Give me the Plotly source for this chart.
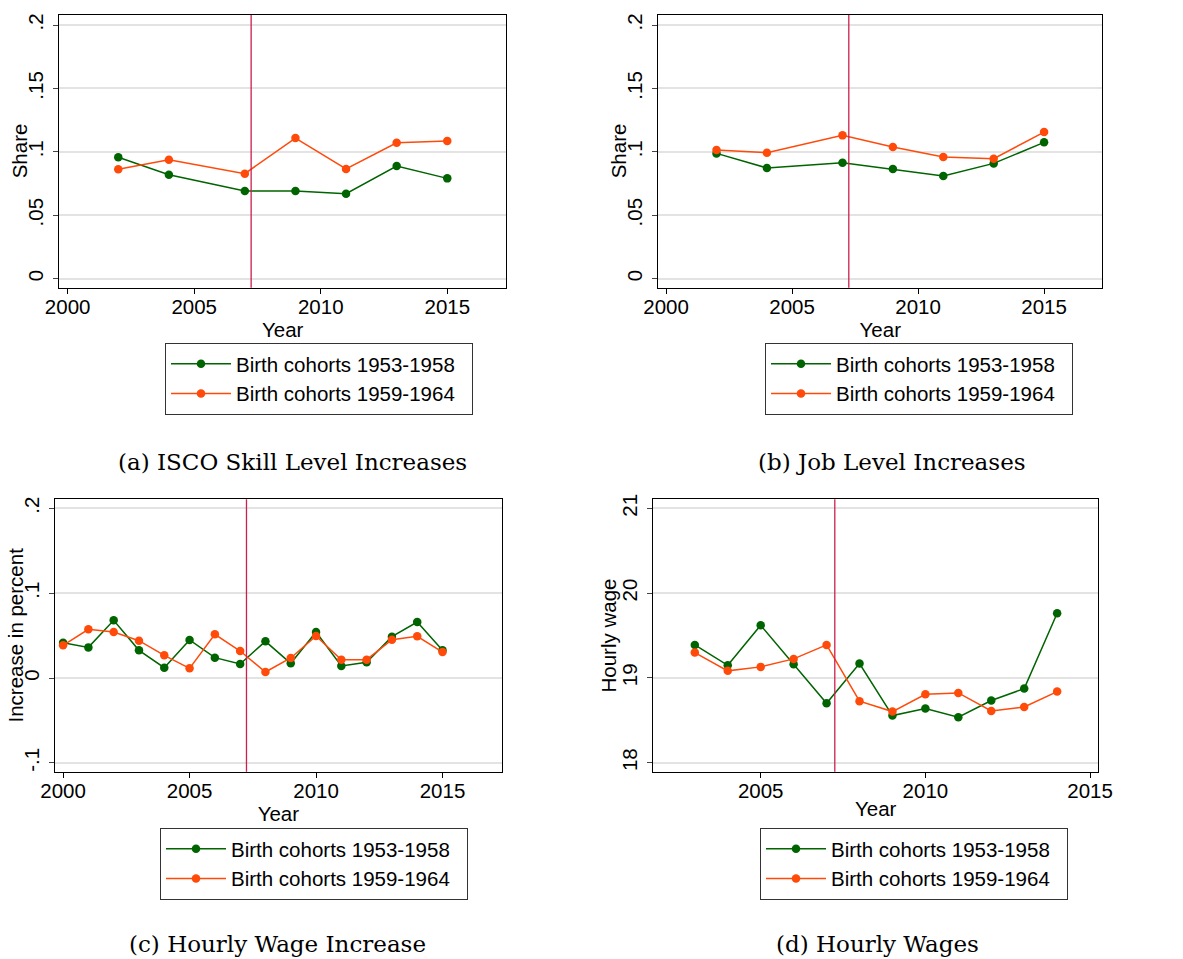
import plotly.graph_objects as go

# ---------------- data ----------------
years_ab = [2002, 2004, 2007, 2009, 2011, 2013, 2015]
years_c = list(range(2000, 2016))
years_d = list(range(2003, 2015))

isco_5358 = [0.0957, 0.0820, 0.0691, 0.0691, 0.0670, 0.0888, 0.0791]
isco_5964 = [0.0862, 0.0938, 0.0828, 0.1109, 0.0865, 0.1072, 0.1085]

job_5358 = [0.0988, 0.0873, 0.0915, 0.0865, 0.0810, 0.0909, 0.1075]
job_5964 = [0.1014, 0.0993, 0.1130, 0.1038, 0.0959, 0.0946, 0.1156]

wageinc_5358 = [0.0416, 0.0361, 0.0680, 0.0326, 0.0122, 0.0448, 0.0240, 0.0165,
                0.0432, 0.0173, 0.0542, 0.0141, 0.0185, 0.0487, 0.0660, 0.0326]
wageinc_5964 = [0.0385, 0.0574, 0.0542, 0.0440, 0.0267, 0.0114, 0.0515, 0.0318,
                0.0071, 0.0236, 0.0495, 0.0216, 0.0216, 0.0452, 0.0491, 0.0306]

wage_5358 = [19.389, 19.149, 19.621, 19.161, 18.701, 19.169, 18.556, 18.638,
             18.536, 18.733, 18.874, 19.763]
wage_5964 = [19.299, 19.083, 19.130, 19.224, 19.389, 18.725, 18.603, 18.807,
             18.823, 18.611, 18.658, 18.839]

event_year = 2007.25

series_names = ["Birth cohorts 1953-1958", "Birth cohorts 1959-1964"]

share_tickvals = [0, 0.05, 0.1, 0.15, 0.2]
share_ticktext = ["0", ".05", ".1", ".15", ".2"]
inc_tickvals = [-0.1, 0, 0.1, 0.2]
inc_ticktext = ["-.1", "0", ".1", ".2"]
wage_tickvals = [18, 19, 20, 21]
wage_ticktext = ["18", "19", "20", "21"]
year_ticks_abc = [2000, 2005, 2010, 2015]
year_ticks_d = [2005, 2010, 2015]

y_titles = ["Share", "Share", "Increase in percent", "Hourly wage"]
captions = ["(a) ISCO Skill Level Increases", "(b) Job Level Increases",
            "(c) Hourly Wage Increase", "(d) Hourly Wages"]

# ---------------- styling ----------------
GREEN = "#006400"
ORANGE = "#FF4A0A"
VLINE = "#CC1F4E"
SANS = "Liberation Sans, Arial, sans-serif"
SERIF = "DejaVu Serif, serif"
FS = 20.5
W, H = 1183, 959
PAD = "\u00a0\u00a0"  # keeps the legend box as wide as in the reference

def px_x(a, b):
    return [a / W, b / W]

def px_y(top, bottom):
    return [1 - bottom / H, 1 - top / H]

panels = [
    dict(xd=px_x(59.3, 506.0), yd=px_y(15, 287.7), xr=[1999.67, 2017.32], yr=[-0.0071, 0.2079],
         years=years_ab, s1=isco_5358, s2=isco_5964, tv=share_tickvals, tt=share_ticktext,
         xt=year_ticks_abc, ytx=19, legpos=(165, 343), cap=(292, 462)),
    dict(xd=px_x(658.3, 1102.3), yd=px_y(15, 287.7), xr=[1999.69, 2017.31], yr=[-0.0071, 0.2079],
         years=years_ab, s1=job_5358, s2=job_5964, tv=share_tickvals, tt=share_ticktext,
         xt=year_ticks_abc, ytx=618, legpos=(765, 343), cap=(892, 462)),
    dict(xd=px_x(55, 501.7), yd=px_y(499.3, 771.7), xr=[1999.68, 2017.34], yr=[-0.1104, 0.2106],
         years=years_c, s1=wageinc_5358, s2=wageinc_5964, tv=inc_tickvals, tt=inc_ticktext,
         xt=year_ticks_abc, ytx=15, legpos=(160, 828), cap=(277, 944)),
    dict(xd=px_x(653.3, 1098), yd=px_y(499.3, 771.7), xr=[2001.74, 2015.24], yr=[17.894, 21.106],
         years=years_d, s1=wage_5358, s2=wage_5964, tv=wage_tickvals, tt=wage_ticktext,
         xt=year_ticks_d, ytx=608, legpos=(760, 828), cap=(877, 944)),
]

fig = go.Figure()
layout = dict(width=W, height=H, margin=dict(l=0, r=0, t=0, b=0, autoexpand=False),
              paper_bgcolor="white", plot_bgcolor="white",
              font=dict(family=SANS, size=FS, color="black"))
shapes, annotations = [], []

for i, p in enumerate(panels, start=1):
    sfx = "" if i == 1 else str(i)
    xa, ya = "x" + sfx, "y" + sfx
    leg = "legend" + sfx
    for name, vals, col in [(series_names[0], p["s1"], GREEN), (series_names[1], p["s2"], ORANGE)]:
        fig.add_trace(go.Scatter(x=p["years"], y=vals, name=name + PAD, mode="lines+markers",
                                 line=dict(color=col, width=1.5),
                                 marker=dict(color=col, size=8.5),
                                 xaxis=xa, yaxis=ya, legend=leg))
    layout["xaxis" + sfx] = dict(domain=p["xd"], range=p["xr"], anchor=ya, automargin=False,
                                 tickmode="array", tickvals=p["xt"],
                                 ticks="outside", ticklen=5, tickwidth=1.3, tickcolor="black",
                                 ticklabelstandoff=-4,
                                 showline=True, linecolor="black", linewidth=1.3, mirror=True,
                                 showgrid=False, zeroline=False,
                                 tickfont=dict(size=FS),
                                 title=dict(text="Year", font=dict(size=FS), standoff=0))
    layout["yaxis" + sfx] = dict(domain=p["yd"], range=p["yr"], anchor=xa, automargin=False,
                                 tickmode="array", tickvals=p["tv"], ticktext=p["tt"],
                                 tickangle=-90, ticklabelstandoff=2,
                                 ticks="outside", ticklen=5, tickwidth=1.3, tickcolor="#444",
                                 showline=True, linecolor="black", linewidth=1.3, mirror=True,
                                 showgrid=True, gridcolor="#E3E3E3", gridwidth=1.5,
                                 zeroline=False,
                                 tickfont=dict(size=FS))
    shapes.append(dict(type="line", xref=xa, yref=ya + " domain", x0=event_year, x1=event_year,
                       y0=0, y1=1, line=dict(color=VLINE, width=1.3), layer="above"))
    # y-axis title
    annotations.append(dict(text=y_titles[i - 1], xref="paper", yref=ya + " domain",
                            x=p["ytx"] / W, y=0.5, xanchor="center", yanchor="middle",
                            textangle=-90, showarrow=False, font=dict(size=FS, color="black")))
    lx, ly = p["legpos"]
    layout[leg] = dict(x=lx / W, y=1 - ly / H, xanchor="left", yanchor="top",
                       bordercolor="#333", borderwidth=1, bgcolor="white",
                       font=dict(size=FS), itemwidth=60, tracegroupgap=0)
    cx, cy = p["cap"]
    annotations.append(dict(text=captions[i - 1], xref="paper", yref="paper",
                            x=cx / W, y=1 - cy / H, xanchor="center", yanchor="middle",
                            showarrow=False, font=dict(family=SERIF, size=23, color="black")))

layout["shapes"] = shapes
layout["annotations"] = annotations
layout["showlegend"] = True
fig.update_layout(**layout)
fig.write_html("out.html", config={"displayModeBar": False},
               post_script="document.body.style.margin='0';document.body.style.overflow='hidden';")
